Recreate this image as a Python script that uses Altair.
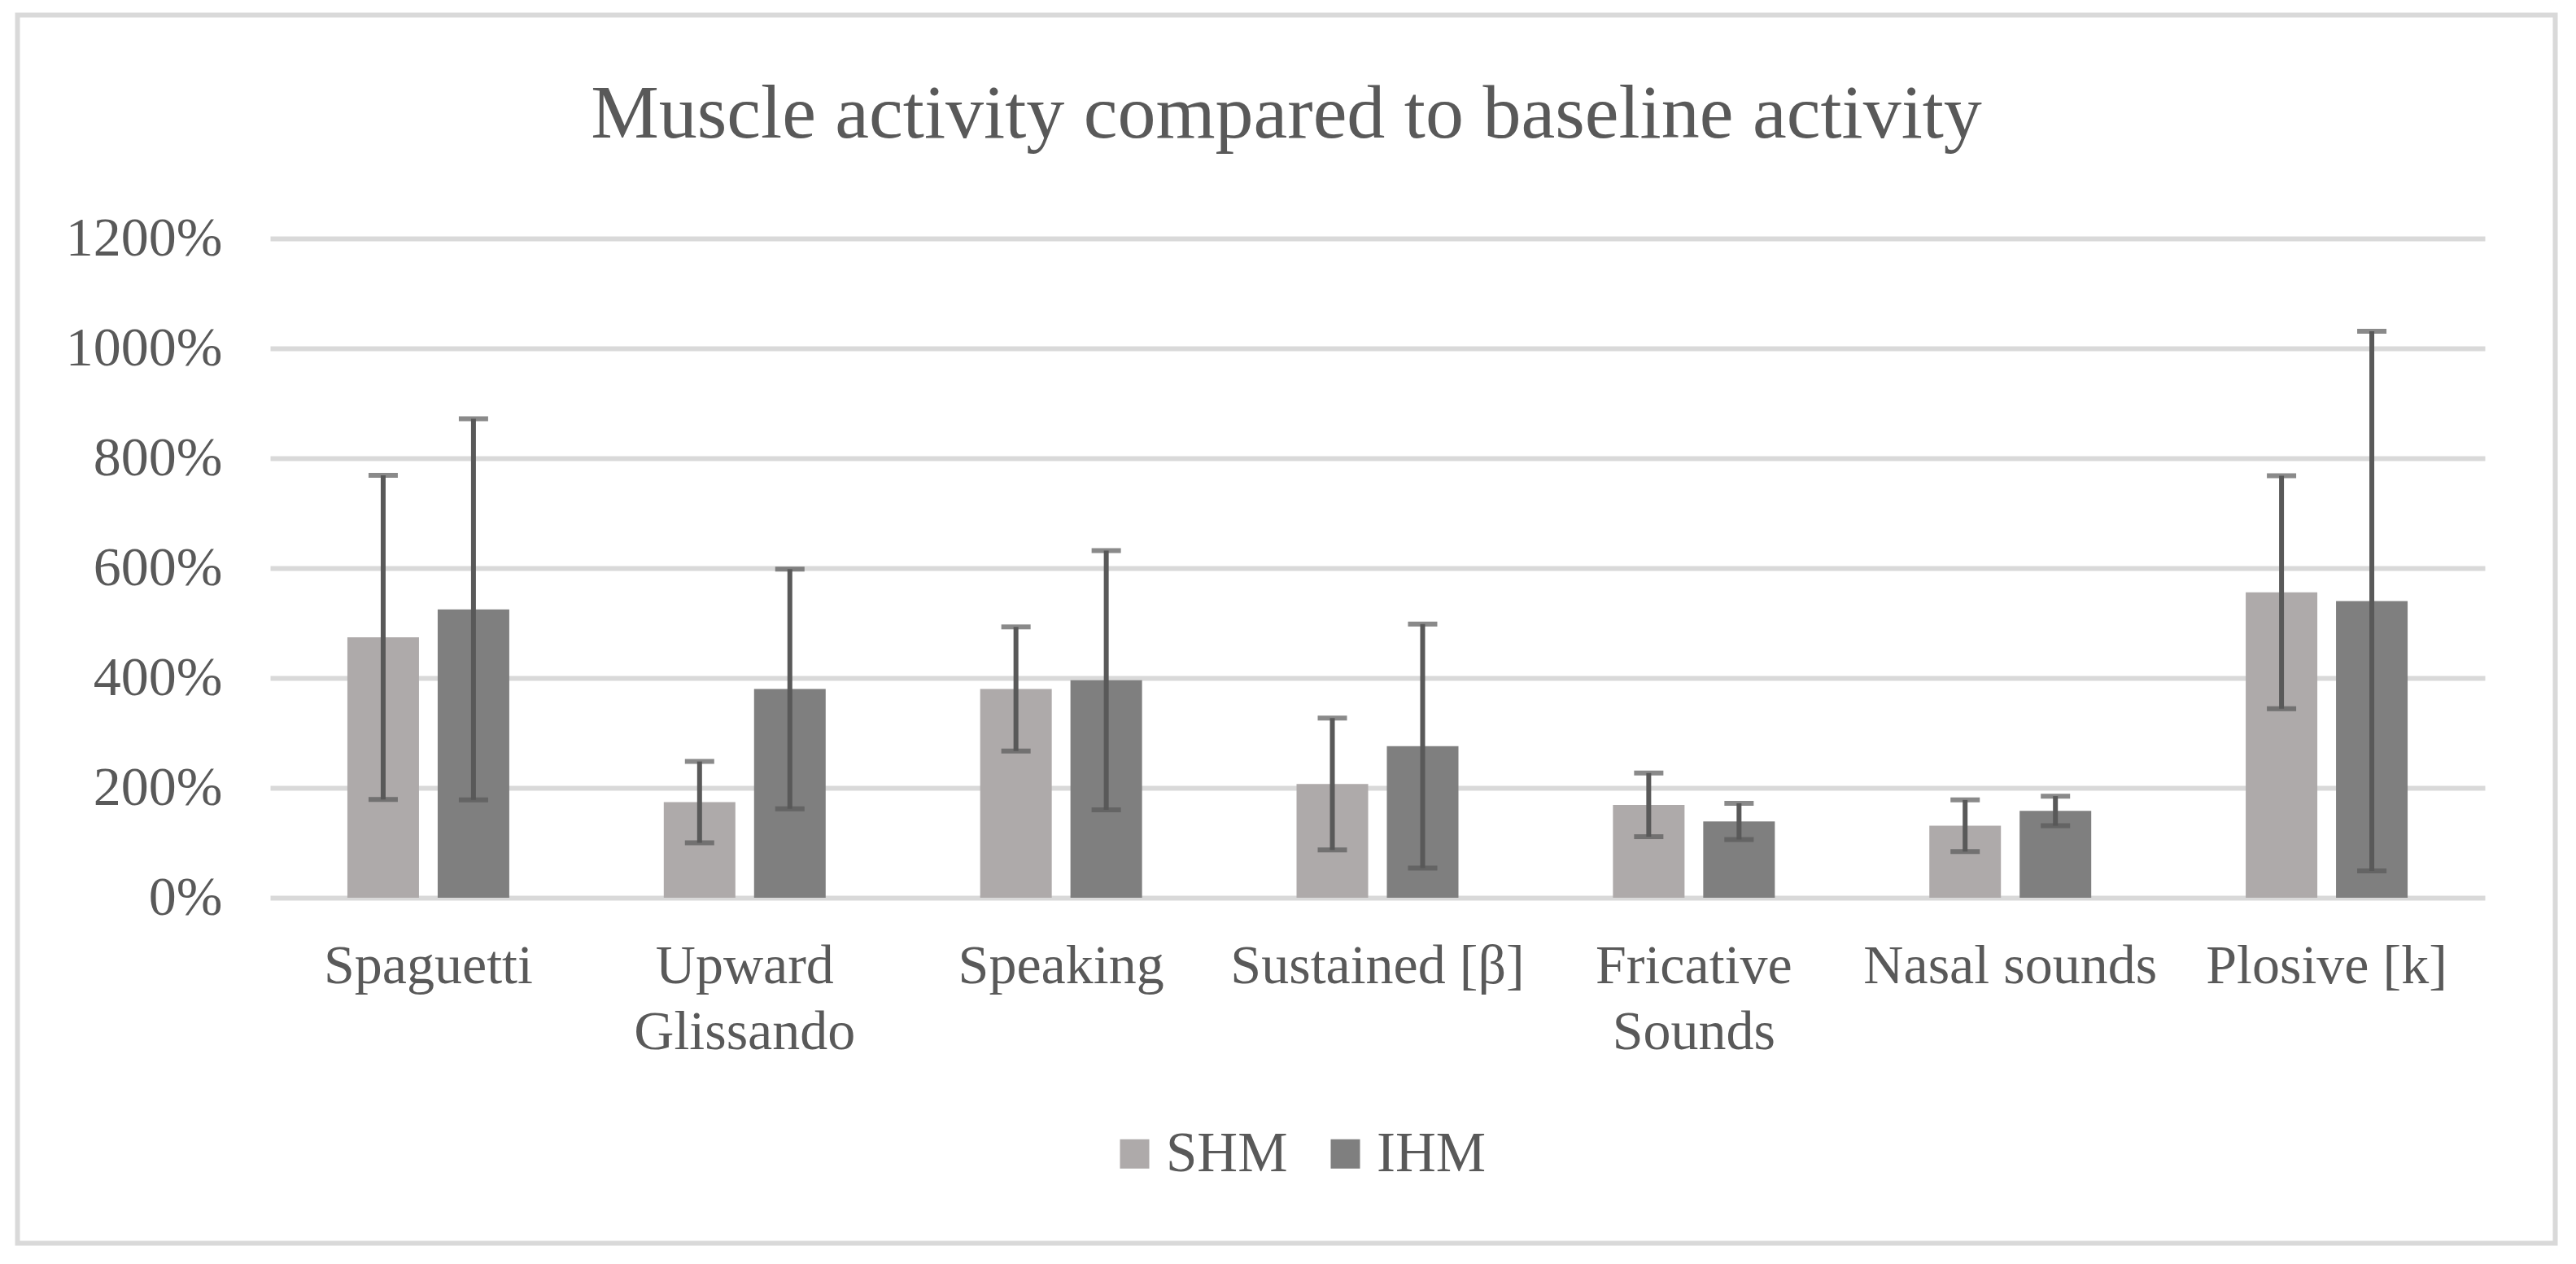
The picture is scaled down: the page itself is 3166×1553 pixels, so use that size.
import altair as alt
import pandas as pd

title_text = "Muscle activity compared to baseline activity"
categories = ["Spaguetti", "Upward Glissando", "Speaking", "Sustained [β]",
              "Fricative Sounds", "Nasal sounds", "Plosive [k]"]
series = ["SHM", "IHM"]
shm_mean = [474, 174, 380, 207, 169, 131, 556]
shm_err = [295, 74, 113, 120, 58, 47, 212]
ihm_mean = [525, 380, 396, 276, 139, 158, 540]
ihm_err = [347, 218, 236, 222, 33, 27, 491]
y_ticks = [0, 200, 400, 600, 800, 1000, 1200]
colors = ["#aeaaaa", "#7f7f7f"]

rows = []
for s, means, errs in [("SHM", shm_mean, shm_err), ("IHM", ihm_mean, ihm_err)]:
    for c, m, e in zip(categories, means, errs):
        rows.append({"category": c, "series": s, "mean": m, "low": m - e, "high": m + e})
df = pd.DataFrame(rows)

FONT = "Liberation Serif"
TXT = "#595959"

x_enc = alt.X("category:N", sort=categories,
              scale=alt.Scale(paddingInner=0.4883, paddingOuter=0.24415),
              axis=alt.Axis(title=None, labelAngle=0, domain=False, ticks=False,
                            labelFont=FONT, labelFontSize=68, labelColor=TXT,
                            labelPadding=50, labelLineHeight=81, labelLimit=0,
                            labelExpr="indexof(['Upward Glissando','Fricative Sounds'], datum.label) >= 0 ? split(datum.label, ' ') : datum.label"))
xoff = alt.XOffset("series:N", sort=series,
                   scale=alt.Scale(paddingInner=0.207, paddingOuter=0))

base = alt.Chart(df)

bars = base.mark_bar().encode(
    x=x_enc,
    xOffset=xoff,
    y=alt.Y("mean:Q", scale=alt.Scale(domain=[0, 1200], nice=False),
            axis=alt.Axis(title=None, values=y_ticks, domain=False, ticks=False,
                          labelExpr="datum.value + '%'", labelLimit=0,
                          labelFont=FONT, labelFontSize=68, labelColor=TXT,
                          labelPadding=59, grid=True, gridColor="#d9d9d9", gridWidth=6)),
    color=alt.Color("series:N", sort=series,
                    scale=alt.Scale(domain=series, range=colors),
                    legend=alt.Legend(title=None, orient="none", direction="horizontal",
                                      legendX=1028, legendY=1090, padding=0,
                                      symbolType="square", symbolSize=1296,
                                      symbolStrokeWidth=0, labelOffset=4,
                                      columnPadding=36, labelLimit=0,
                                      labelFont=FONT, labelFontSize=69, labelColor=TXT)),
)

rules = base.mark_rule(color="#595959", strokeWidth=6).encode(
    x=alt.X("category:N", sort=categories),
    xOffset=xoff,
    y="low:Q",
    y2="high:Q",
)

caps_low = base.mark_tick(color="#595959", size=36, thickness=6, orient="horizontal").encode(
    x=alt.X("category:N", sort=categories),
    xOffset=xoff,
    y="low:Q",
)
caps_high = base.mark_tick(color="#595959", size=36, thickness=6, orient="horizontal").encode(
    x=alt.X("category:N", sort=categories),
    xOffset=xoff,
    y="high:Q",
)

title = alt.Chart(pd.DataFrame({"t": [title_text]})).mark_text(
    font=FONT, fontSize=94, color=TXT, align="center", baseline="alphabetic"
).encode(
    text="t:N", x=alt.value(1249), y=alt.value(-124),
)

frame = alt.Chart(pd.DataFrame({"k": [0]})).mark_rect(
    fill=None, filled=False, stroke="#d9d9d9", strokeWidth=6
).encode(
    x=alt.value(-310.5), x2=alt.value(2808.5),
    y=alt.value(-274.5), y2=alt.value(1234.5),
)

chart = alt.layer(bars, rules, caps_low, caps_high, title, frame).properties(
    width=2722, height=810,
    autosize=alt.AutoSizeParams(type="none"),
    padding={"left": 324, "top": 285, "right": 100, "bottom": 440},
    background="white",
).configure_view(strokeWidth=0)

chart.save("out.html", embed_options={"renderer": "svg", "actions": False})
